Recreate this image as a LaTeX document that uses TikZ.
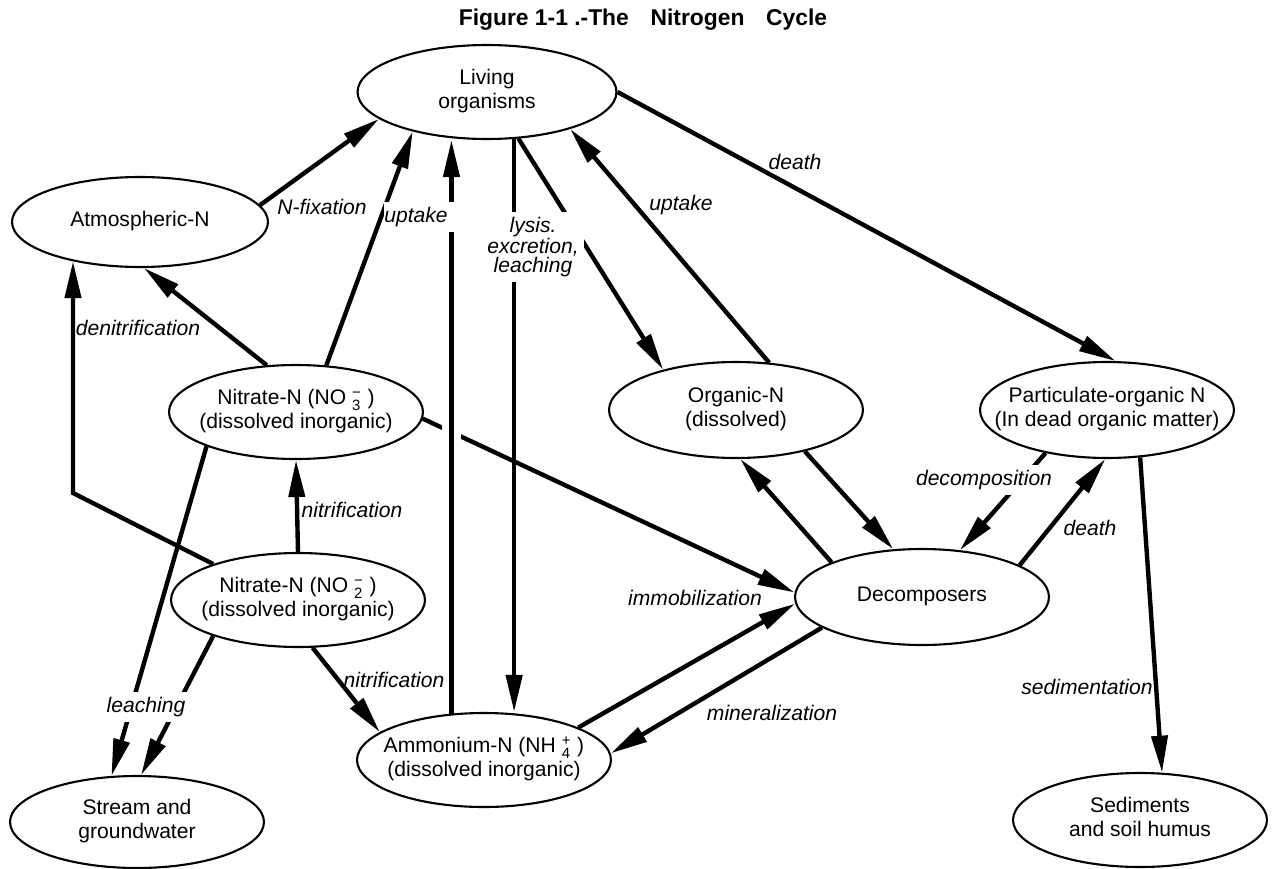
\documentclass[tikz,border=0pt]{standalone}
\usepackage{fontspec}
\setmainfont{Liberation Sans}
\usetikzlibrary{arrows.meta, shapes.geometric}

\newcommand{\pooltxt}[1]{\makebox[0pt]{\begin{tabular}{@{}c@{}}#1\end{tabular}}}
\newcommand{\ionsub}[2]{$_{\mbox{\fontsize{8.5}{9}\selectfont #1}}^{\mbox{\fontsize{8.5}{9}\selectfont #2}}$}

\begin{document}
\begin{tikzpicture}[x=0.02cm, y=-0.02cm,
    pool/.style={draw, ellipse, line width=1.2pt, inner sep=0pt,
      minimum width=5.08cm, minimum height=1.88cm, font=\fontsize{12}{13.5}\selectfont},
    flow/.style={line width=2.5pt, -{Triangle[length=7.4mm, width=3.2mm]}},
    lbl/.style={font=\itshape\fontsize{12}{10.5}\selectfont, inner sep=1pt},
    lblw/.style={lbl, fill=white, inner sep=3pt}]
    \useasboundingbox (0,0) rectangle (1272,869);
    % Title
    \node[font=\bfseries\fontsize{13}{15}\selectfont] (title) at (643,20)
      {Figure 1-1 .-The\hspace{0.95em}Nitrogen\hspace{0.95em}Cycle};
    % Pools
    \node[pool, minimum width=5.18cm] (liv) at (487,92) {\pooltxt{Living\\organisms}};
    \node[pool, minimum width=5.12cm, minimum height=1.8cm] (atm) at (140,222) {\pooltxt{Atmospheric-N}};
    \node[pool] (no3) at (296,412) {\pooltxt{Nitrate-N (NO \ionsub{3}{−} )\\(dissolved inorganic)}};
    \node[pool] (no2) at (298,600) {\pooltxt{Nitrate-N (NO \ionsub{2}{−} )\\(dissolved inorganic)}};
    \node[pool, minimum height=1.84cm] (str) at (137,822) {\pooltxt{Stream and\\groundwater}};
    \node[pool] (amm) at (484,760) {\pooltxt{Ammonium-N (NH \ionsub{4}{+} )\\(dissolved inorganic)}};
    \node[pool, minimum height=1.92cm] (org) at (736,410) {\pooltxt{Organic-N\\(dissolved)}};
    \node[pool, minimum height=1.92cm] (par) at (1107,410) {\pooltxt{Particulate-organic N\\(In dead organic matter)}};
    \node[pool, minimum height=1.92cm] (dec) at (922,597) {\pooltxt{Decomposers}};
    \node[pool] (sed) at (1140,820) {\pooltxt{Sediments\\and soil humus}};
    % Fixation and uptake
    \draw[flow] (atm.8) -- (liv.194);
    \draw[flow] (no3.57) -- (liv.208);
    \draw[flow] (org.55) -- (liv.336);
    % Release from organisms
    \draw[flow] (liv.304) -- (org.151);
    \draw[flow] (liv.east) -- (par.80);
    % Denitrification
    \draw[flow] (no3.122) -- (atm.275);
    \coordinate (dnbend) at (73,493);
    \draw[flow] (no2.157) -- (dnbend) -- (dnbend |- atm.210);
    % Nitrification
    \draw[flow] (no2.north) -- (no3.south);
    \draw[flow] (no2.287) -- (amm.165);
    % Leaching
    \draw[flow] (no3.201) -- (str.119);
    \draw[flow] (no2.203) -- (str.85);
    % Decomposers
    \draw[flow] (no3.357) -- (dec.178);
    \draw[flow] (amm.19) -- (dec.183);
    \draw[flow] (dec.197) -- (amm.3);
    \draw[flow] (org.329) -- (dec.121);
    \draw[flow] (dec.159) -- (org.275);
    \draw[flow] (par.215) -- (dec.51);
    \draw[flow] (dec.18) -- (par.268);
    \draw[flow] (par.305) -- (sed.65);
    % Ammonium and living organisms
    \draw[flow] (liv.300) -- (liv.300 |- amm.north);
    \draw[flow, preaction={draw=white, -, line width=11pt, shorten <=2cm, shorten >=2cm}]
      (amm.125) -- (amm.125 |- liv.south);
    % Labels
    \node[lbl] (lfix) at (322,207) {N-fixation};
    \node[lbl, fill=white, anchor=west, inner xsep=0pt, inner ysep=3pt, text width=1.5cm, align=left]
      (lup1) at (384,217) {uptake};
    \node[lblw, align=center] (llys) at (533,247) {lysis.\\excretion,\\leaching};
    \node[lbl] (lup2) at (681,205) {uptake};
    \node[lbl] (ldeath1) at (795,162) {death};
    \node[lbl] (ldenit) at (138,328) {denitrification};
    \node[lbl] (lnit1) at (352,510) {nitrification};
    \node[lblw] (lleach) at (146,707) {leaching};
    \node[lbl] (lnit2) at (394,680) {nitrification};
    \node[lbl] (limmob) at (695,598) {immobilization};
    \node[lbl] (lmin) at (772,713) {mineralization};
    \node[lblw] (ldecomp) at (984,480) {decomposition};
    \node[lbl] (ldeath2) at (1090,528) {death};
    \node[lbl] (lsed) at (1087,687) {sedimentation};
\end{tikzpicture}
\end{document}
